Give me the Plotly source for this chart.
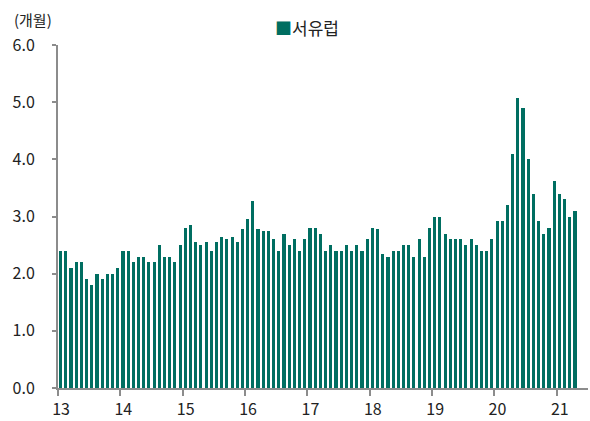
import plotly.graph_objects as go

years = ["13", "14", "15", "16", "17", "18", "19", "20", "21"]
v2013 = [2.4, 2.4, 2.1, 2.2, 2.2, 1.9, 1.8, 2.0, 1.9, 2.0, 2.0, 2.1]
v2014 = [2.4, 2.4, 2.2, 2.3, 2.3, 2.2, 2.2, 2.5, 2.3, 2.3, 2.2, 2.5]
v2015 = [2.8, 2.85, 2.55, 2.5, 2.55, 2.4, 2.55, 2.65, 2.6, 2.65, 2.55, 2.78]
v2016 = [2.95, 3.27, 2.78, 2.74, 2.74, 2.6, 2.4, 2.7, 2.5, 2.6, 2.4, 2.6]
v2017 = [2.8, 2.8, 2.7, 2.4, 2.5, 2.4, 2.4, 2.5, 2.4, 2.5, 2.4, 2.6]
v2018 = [2.8, 2.78, 2.35, 2.3, 2.4, 2.4, 2.5, 2.5, 2.3, 2.6, 2.3, 2.8]
v2019 = [3.0, 3.0, 2.7, 2.6, 2.6, 2.6, 2.5, 2.6, 2.5, 2.4, 2.4, 2.6]
v2020 = [2.92, 2.92, 3.2, 4.1, 5.08, 4.9, 4.0, 3.4, 2.92, 2.7, 2.8, 3.62]
v2021 = [3.4, 3.3, 3.0, 3.1]

values = v2013 + v2014 + v2015 + v2016 + v2017 + v2018 + v2019 + v2020 + v2021
months = list(range(len(values)))
series_name = "서유럽"
unit_label = "(개월)"

font_family = "Noto Sans CJK KR, Noto Sans, sans-serif"
axis_color = "#8c8c8c"
bar_color = "#006e61"
text_color = "#222222"

fig = go.Figure()
fig.add_trace(go.Bar(
    x=months, y=values, name=series_name,
    marker=dict(color=bar_color, line=dict(width=0)),
    width=0.6, showlegend=False,
))

fig.update_layout(
    width=590, height=421,
    margin=dict(l=58, r=2, t=45, b=33, autoexpand=False),
    paper_bgcolor="white", plot_bgcolor="white",
    font=dict(family=font_family, size=16, color=text_color),
    bargap=0,
)
fig.update_xaxes(
    range=[-0.5, 101.5],
    tickmode="array",
    tickvals=[-0.5 + 12 * i for i in range(len(years))],
    ticktext=years,
    ticks="outside", ticklen=6, tickwidth=2, tickcolor=axis_color,
    showline=True, linecolor=axis_color, linewidth=2,
    showgrid=False, zeroline=False, automargin=False,
    tickfont=dict(size=16, family=font_family, color=text_color),
    ticklabelshift=3,
)
fig.update_yaxes(
    range=[0, 6], dtick=1, tickformat=".1f",
    ticks="outside", ticklen=4, tickwidth=2, tickcolor=axis_color,
    showline=True, linecolor=axis_color, linewidth=2,
    showgrid=False, zeroline=False, automargin=False,
    tickfont=dict(size=16, family=font_family, color=text_color),
    ticklabelstandoff=14,
)
fig.add_annotation(
    text=unit_label, xref="paper", yref="paper", x=-0.087, y=1.075,
    xanchor="left", yanchor="middle", showarrow=False,
    font=dict(size=15, family=font_family, color=text_color),
)
fig.add_annotation(
    text=f"<span style='color:{bar_color}'>■</span>{series_name}",
    xref="paper", yref="paper", x=0.47, y=1.05,
    xanchor="center", yanchor="middle", showarrow=False,
    font=dict(size=17, family=font_family, color=text_color),
)

fig.write_html(
    "out.html",
    config={"displayModeBar": False},
    post_script="document.body.style.margin='0';document.body.style.overflow='hidden';",
)
